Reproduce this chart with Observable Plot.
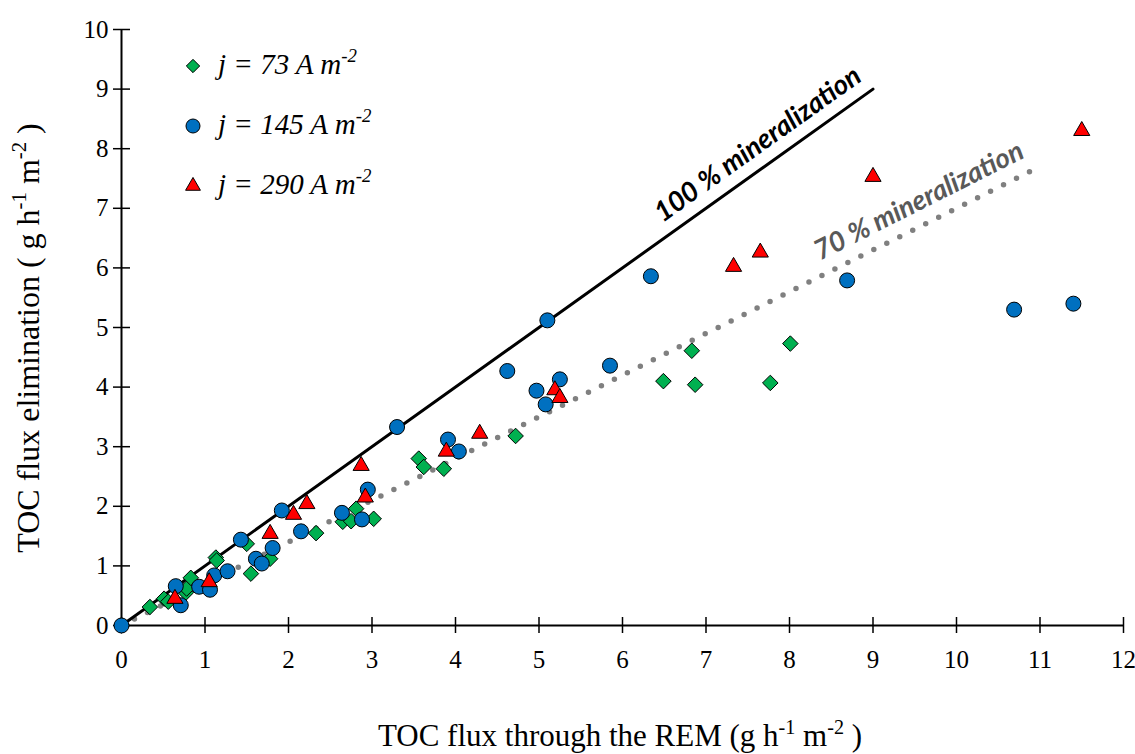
<!DOCTYPE html>
<html><head><meta charset="utf-8">
<script src="https://cdn.jsdelivr.net/npm/d3@7"></script>
<script src="https://cdn.jsdelivr.net/npm/@observablehq/plot@0.6"></script>
<style>body{margin:0;background:#fff} svg{display:block}</style>
</head><body><div id="chart"></div>
<script>
// j = 73 A m-2 (green diamonds)
const series73 = [
  {x:0,y:0},{x:0.34,y:0.31},{x:0.51,y:0.45},{x:0.56,y:0.40},{x:0.77,y:0.55},{x:0.78,y:0.62},
  {x:0.83,y:0.80},{x:1.13,y:1.14},{x:1.14,y:1.09},{x:1.50,y:1.37},{x:1.55,y:0.87},
  {x:1.78,y:1.12},{x:2.33,y:1.55},{x:2.65,y:1.74},{x:2.75,y:1.75},{x:2.81,y:1.96},
  {x:3.02,y:1.79},{x:3.56,y:2.80},{x:3.62,y:2.66},{x:3.86,y:2.63},{x:4.72,y:3.18},
  {x:6.49,y:4.10},{x:6.83,y:4.61},{x:6.87,y:4.04},{x:7.77,y:4.07},{x:8.01,y:4.73}
];
// j = 145 A m-2 (blue circles)
const series145 = [
  {x:0,y:0},{x:0.65,y:0.66},{x:0.71,y:0.34},{x:0.93,y:0.65},{x:1.06,y:0.60},{x:1.11,y:0.84},
  {x:1.27,y:0.91},{x:1.43,y:1.44},{x:1.61,y:1.12},{x:1.68,y:1.04},{x:1.81,y:1.30},
  {x:1.92,y:1.93},{x:2.15,y:1.58},{x:2.64,y:1.89},{x:2.88,y:1.78},{x:2.95,y:2.28},
  {x:3.30,y:3.33},{x:3.91,y:3.12},{x:4.04,y:2.92},{x:4.62,y:4.27},{x:4.97,y:3.94},
  {x:5.08,y:3.71},{x:5.10,y:5.12},{x:5.25,y:4.13},{x:5.85,y:4.36},{x:6.34,y:5.86},
  {x:8.69,y:5.79},{x:10.69,y:5.30},{x:11.40,y:5.40}
];
// j = 290 A m-2 (red triangles)
const series290 = [
  {x:0.64,y:0.45},{x:1.05,y:0.73},{x:1.78,y:1.54},{x:2.06,y:1.86},{x:2.22,y:2.04},
  {x:2.87,y:2.68},{x:2.92,y:2.15},{x:3.89,y:2.92},{x:4.29,y:3.22},{x:5.19,y:3.95},
  {x:5.25,y:3.82},{x:7.33,y:6.02},{x:7.65,y:6.26},{x:9.00,y:7.53},{x:11.50,y:8.30}
];
const line100 = [{x:0,y:0},{x:9,y:9}];
const line70 = [{x:0,y:0},{x:11,y:7.7}];
const label100 = [{x:7.62,y:7.62,text:"100 % mineralization"}];
const label70 = [{x:9.55,y:6.685,text:"70 % mineralization"}];
const xTicks = [0,1,2,3,4,5,6,7,8,9,10,11,12];
const yTicks = [0,1,2,3,4,5,6,7,8,9,10];
const legendLabels = ["j = 73 A m", "j = 145 A m", "j = 290 A m"];
const legendSup = "-2";
const xTitle = [{t:"TOC flux through the REM (g h"},{t:"-1",sup:true},{t:" m"},{t:"-2",sup:true},{t:" )"}];
const yTitle = [{t:"TOC flux elimination ( g h"},{t:"-1",sup:true},{t:" m"},{t:"-2",sup:true},{t:" )"}];

const GREEN="#00B050", BLUE="#0070C0", RED="#FF0000";
const serif = "Liberation Serif";
const annoFont = "Lato";

const chart = Plot.plot({
  width:1135, height:754,
  marginLeft:121, marginRight:12, marginTop:29, marginBottom:129,
  style:{color:"#000", background:"#fff"},
  x:{domain:[0,12], axis:null}, y:{domain:[0,10], axis:null},
  marks:[
    // tick marks crossing the axes
    Plot.ruleX(xTicks,{x:d=>d, insetTop:588, insetBottom:-8, stroke:"#000", strokeWidth:1.5}),
    Plot.ruleY(yTicks,{y:d=>d, insetRight:993, insetLeft:-8, stroke:"#000", strokeWidth:1.5}),
    // tick labels
    Plot.text(xTicks,{x:d=>d, text:d=>String(d), frameAnchor:"bottom", lineAnchor:"top", dy:25, fontFamily:serif, fontSize:25, fill:"#000"}),
    Plot.text(yTicks,{y:d=>d, text:d=>String(d), frameAnchor:"left", textAnchor:"end", dx:-13, fontFamily:serif, fontSize:25, fill:"#000"}),
    // axis lines
    Plot.ruleX([0],{stroke:"#000", strokeWidth:2}),
    Plot.ruleY([0],{stroke:"#000", strokeWidth:2}),
    Plot.line(line70,{x:"x",y:"y",stroke:"#808080",strokeWidth:5.5,strokeDasharray:"0 14.5",strokeLinecap:"round"}),
    Plot.line(line100,{x:"x",y:"y",stroke:"#000",strokeWidth:3}),
    Plot.dot(series73,{x:"x",y:"y",symbol:"diamond2",r:7,fill:GREEN,stroke:"#000",strokeWidth:1}),
    Plot.dot(series145,{x:"x",y:"y",symbol:"circle",r:7.5,fill:BLUE,stroke:"#000",strokeWidth:1}),
    Plot.dot(series290,{x:"x",y:"y",symbol:"triangle",r:6,fill:RED,stroke:"#000",strokeWidth:1}),
    Plot.text(label100,{x:"x",y:"y",text:"text",dy:-27,rotate:-35.5,fontFamily:annoFont,fontWeight:"bold",fontStyle:"italic",fontSize:27.5,fill:"#000"}),
    Plot.text(label70,{x:"x",y:"y",text:"text",dy:-26,rotate:-26.8,fontFamily:annoFont,fontWeight:"bold",fontStyle:"italic",fontSize:27.5,fill:"#595959"})
  ]
});
document.getElementById("chart").appendChild(chart);

const svg = d3.select(chart);
function rich(sel, parts, fs){
  let shifted=false;
  parts.forEach(p=>{
    const ts = sel.append("tspan").text(p.t);
    if(p.sup){ ts.style("font-size", (fs*0.65)+"px"); if(!shifted){ ts.attr("dy", -fs*0.4); shifted=true; } }
    else if(shifted){ ts.attr("dy", fs*0.4); shifted=false; }
  });
}
const xt = svg.append("text").attr("x",620).attr("y",746).attr("text-anchor","middle")
  .style("font-family",serif).style("font-size","31px").attr("fill","#000").style("white-space","pre");
rich(xt, xTitle, 31);
const yt = svg.append("text").attr("transform","translate(39,338) rotate(-90)").attr("text-anchor","middle")
  .style("font-family",serif).style("font-size","32px").attr("fill","#000").style("white-space","pre");
rich(yt, yTitle, 32);

// legend
const symbols = [d3.symbolDiamond2, d3.symbolCircle, d3.symbolTriangle];
const symR = [6, 7, 5.5];
const colors = [GREEN, BLUE, RED];
const legendFs = 29;
legendLabels.forEach((lab,i)=>{
  const cy = 66 + i*60;
  svg.append("path").attr("d", d3.symbol(symbols[i], Math.PI*symR[i]*symR[i])())
    .attr("transform",`translate(193,${cy})`).attr("fill",colors[i]).attr("stroke","#000").attr("stroke-width",1);
  const t = svg.append("text").attr("x",218).attr("y",cy+8).attr("text-anchor","start")
    .style("font-family",serif).style("font-style","italic").style("font-size",legendFs+"px").attr("fill","#000").style("white-space","pre");
  rich(t, [{t:lab},{t:legendSup,sup:true}], legendFs);
});
</script></body></html>
